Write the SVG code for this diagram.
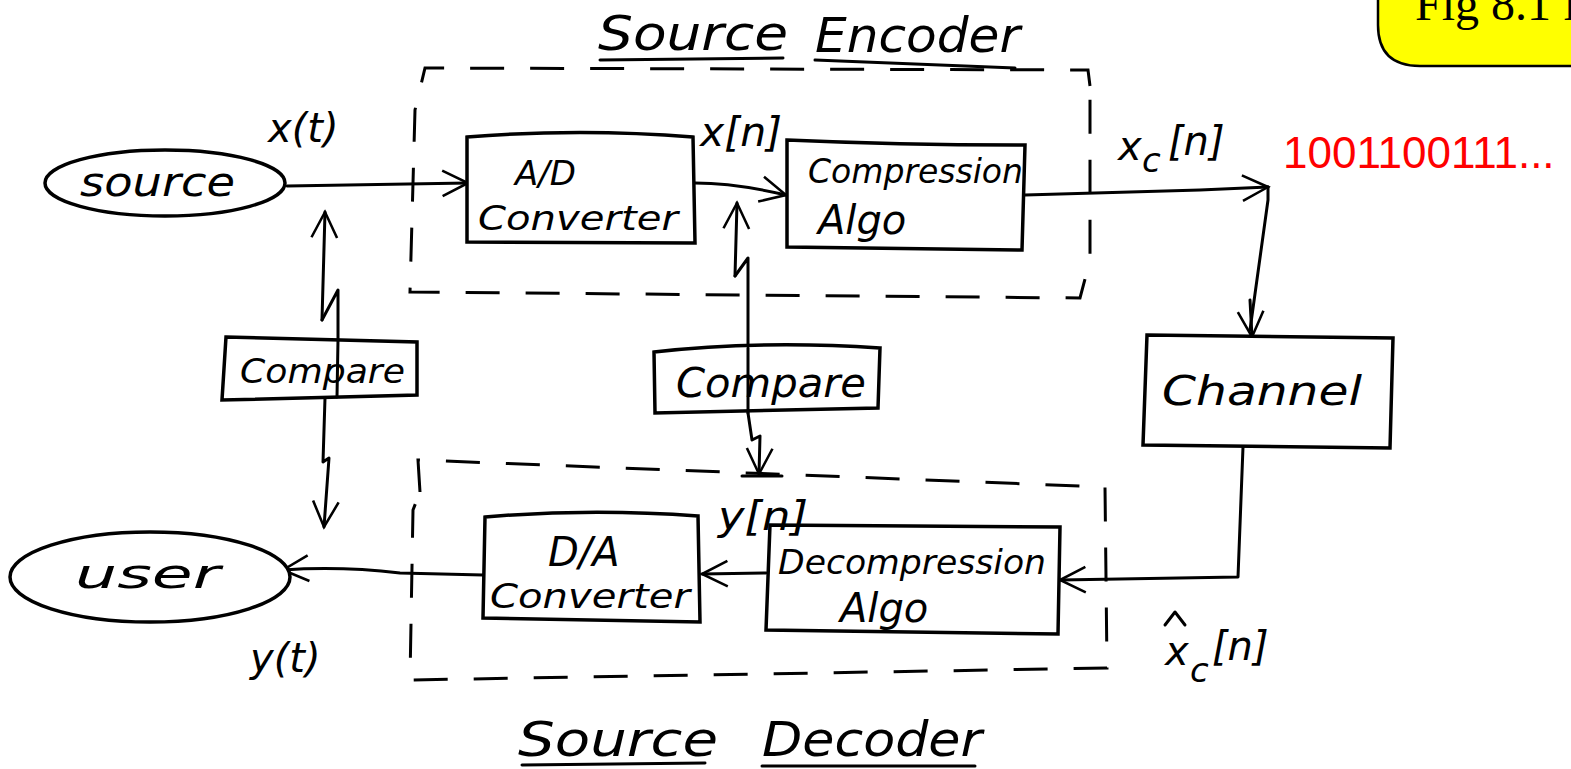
<svg xmlns="http://www.w3.org/2000/svg" width="1571" height="769" viewBox="0 0 1571 769">
<style>
.ln{fill:none;stroke:#000;stroke-width:3;stroke-linecap:round;stroke-linejoin:round}
.box{fill:#fff;stroke:#000;stroke-width:3.5}
.dash{fill:none;stroke:#000;stroke-width:3;stroke-dasharray:34 26}
.hw{font-family:"DejaVu Sans","Liberation Sans",sans-serif;font-style:oblique;fill:#000;font-size:34px}
.lbl{font-family:"DejaVu Sans","Liberation Sans",sans-serif;font-style:oblique;fill:#000;font-size:40px}
.ttl{font-family:"DejaVu Sans","Liberation Sans",sans-serif;font-style:oblique;fill:#000;font-size:48px}
</style>
<defs>
<marker id="ahs" viewBox="0 0 20 20" refX="18" refY="10" markerWidth="32" markerHeight="32" markerUnits="userSpaceOnUse" orient="auto">
<path d="M2 2 L18 10 L2 18" fill="none" stroke="#000" stroke-width="1.6"/>
</marker>
</defs>

<g id="fig-label">
<path d="M1378 -10 L1580 -10 L1580 66 L1420 66 Q1378 66 1378 25 Z" fill="#ffff00" stroke="#000" stroke-width="2.5"/>
<text x="1415" y="20" font-family="Liberation Serif, serif" font-size="48" fill="#000">Fig 8.1 F</text>
</g>

<g id="titles">
<text class="ttl" x="598" y="50" textLength="190" lengthAdjust="spacingAndGlyphs">Source</text>
<path class="ln" d="M600 60 L783 58"/>
<text class="ttl" x="815" y="52" textLength="205" lengthAdjust="spacingAndGlyphs">Encoder</text>
<path class="ln" d="M815 60 L1015 68"/>
<text class="ttl" x="518" y="756" textLength="200" lengthAdjust="spacingAndGlyphs">Source</text>
<path class="ln" d="M522 765 L705 763"/>
<text class="ttl" x="762" y="756" textLength="220" lengthAdjust="spacingAndGlyphs">Decoder</text>
<path class="ln" d="M762 766 L975 766"/>
</g>

<g id="enc-boundary">
<path class="dash" d="M1090 86 L1088 70 L425 68 L415 110 L410 292 L1080 298 L1090 260 L1090 86"/>
</g>
<g id="dec-boundary">
<path class="dash" d="M420 492 L418 460 L1105 487 L1107 668 L410 680 L413 510 Z"/>
</g>

<g id="connectors">
<path class="ln" d="M287 186 L468 183" marker-end="url(#ahs)"/>
<path class="ln" d="M695 183 Q735 183 786 195" marker-end="url(#ahs)"/>
<path class="ln" d="M1025 195 L1200 190 L1268 187" marker-end="url(#ahs)"/>
<path class="ln" d="M1268 187 L1268 200 L1250 330"/>
<path class="ln" d="M1250 300 L1252 337" marker-end="url(#ahs)"/>
<path class="ln" d="M1243 447 L1238 577 L1060 580" marker-end="url(#ahs)"/>
<path class="ln" d="M766 573 L702 574" marker-end="url(#ahs)"/>
<path class="ln" d="M483 575 L400 573 Q340 566 283 570" marker-end="url(#ahs)"/>
<path class="ln" d="M322 320 L338 290 L338 340"/>
<path class="ln" d="M322 320 L325 212" marker-end="url(#ahs)"/>
<path class="ln" d="M325 398 L323 462 L329 458 L324 527" marker-end="url(#ahs)"/>
<path class="ln" d="M735 276 L748 258 L748 348"/>
<path class="ln" d="M735 276 L737 203" marker-end="url(#ahs)"/>
<path class="ln" d="M748 413 L752 440 L760 436 L759 474" marker-end="url(#ahs)"/>
<path class="ln" d="M742 476 L782 476"/>
</g>

<g id="source">
<ellipse cx="165" cy="183" rx="120" ry="33" fill="#fff" stroke="#000" stroke-width="3.5"/>
<text class="lbl" x="80" y="196" textLength="155" lengthAdjust="spacingAndGlyphs">source</text>
</g>

<g id="ad-converter">
<path class="box" d="M467 137 Q580 128 693 137 L695 243 L467 242 Z"/>
<text class="hw" x="515" y="185">A/D</text>
<text class="hw" x="478" y="230" textLength="200" lengthAdjust="spacingAndGlyphs">Converter</text>
</g>

<g id="compression">
<path class="box" d="M787 140 Q900 145 1025 145 L1022 250 L787 247 Z"/>
<text class="hw" x="808" y="183" textLength="215" lengthAdjust="spacingAndGlyphs">Compression</text>
<text class="lbl" x="818" y="234">Algo</text>
</g>

<g id="channel">
<path class="box" d="M1147 335 L1393 338 L1390 448 L1143 445 Z"/>
<text class="lbl" x="1162" y="405" textLength="200" lengthAdjust="spacingAndGlyphs">Channel</text>
</g>

<g id="decompression">
<path class="box" d="M770 525 L1060 527 L1058 634 L766 630 Z"/>
<text class="hw" x="778" y="574" textLength="268" lengthAdjust="spacingAndGlyphs">Decompression</text>
<text class="lbl" x="840" y="622">Algo</text>
</g>

<g id="da-converter">
<path class="box" d="M485 517 Q590 508 698 516 L700 622 L483 618 Z"/>
<text class="lbl" x="548" y="566">D/A</text>
<text class="hw" x="490" y="608" textLength="200" lengthAdjust="spacingAndGlyphs">Converter</text>
</g>

<g id="user">
<ellipse cx="150" cy="577" rx="140" ry="45" fill="#fff" stroke="#000" stroke-width="3.5"/>
<text class="lbl" x="75" y="588" textLength="145" lengthAdjust="spacingAndGlyphs">user</text>
</g>

<g id="compare-left">
<path class="box" d="M226 337 L417 342 L417 395 L222 400 Z"/>
<text class="hw" x="240" y="383" textLength="165" lengthAdjust="spacingAndGlyphs">Compare</text>
<path class="ln" d="M338 340 L337 397"/>
</g>

<g id="compare-mid">
<path class="box" d="M654 352 Q760 340 880 348 L878 408 L655 413 Z"/>
<text class="lbl" x="676" y="397" textLength="190" lengthAdjust="spacingAndGlyphs">Compare</text>
<path class="ln" d="M748 348 L748 413"/>
</g>

<g id="labels">
<text class="lbl" x="268" y="142">x(t)</text>
<text class="lbl" x="700" y="146" textLength="82" lengthAdjust="spacingAndGlyphs">x[n]</text>
<text class="lbl" x="1118" y="160">x</text>
<text class="hw" x="1142" y="172" font-size="22">c</text>
<text class="lbl" x="1168" y="155">[n]</text>
<text x="1283" y="168" font-family="Liberation Sans, Arial, sans-serif" font-size="44" fill="#ff0000">1001100111...</text>
<text class="lbl" x="718" y="530" textLength="90" lengthAdjust="spacingAndGlyphs">y[n]</text>
<text class="lbl" x="250" y="672">y(t)</text>
<path class="ln" d="M1165 625 L1175 612 L1185 625"/>
<text class="lbl" x="1165" y="665">x</text>
<text class="hw" x="1190" y="682" font-size="22">c</text>
<text class="lbl" x="1212" y="660">[n]</text>
</g>
</svg>
